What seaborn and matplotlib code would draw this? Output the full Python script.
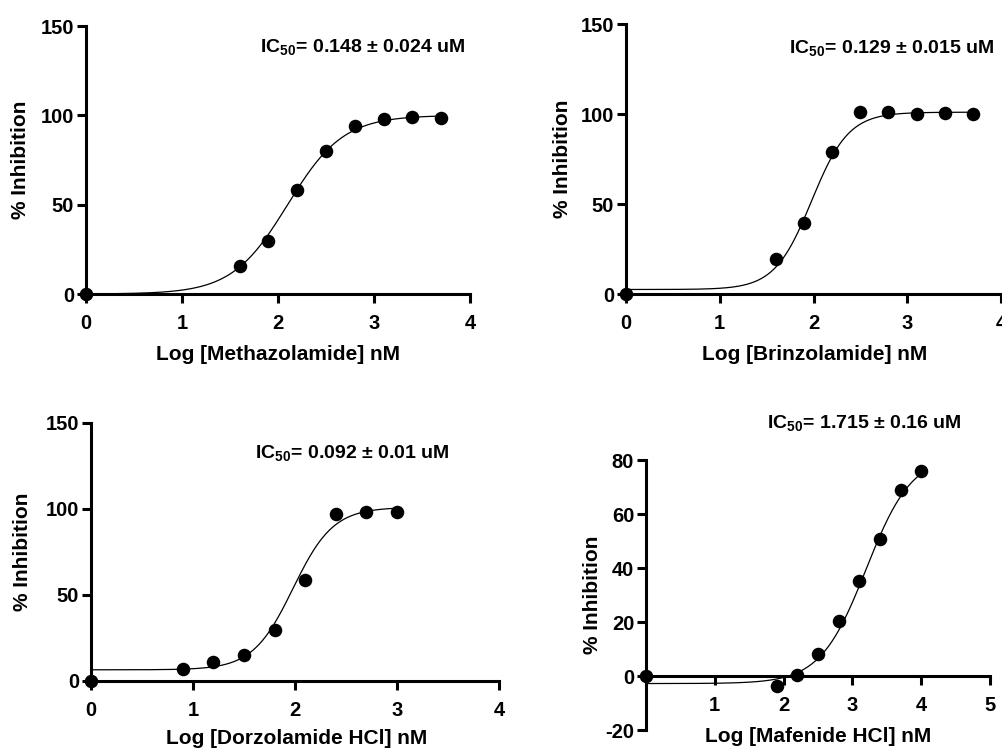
import numpy as np
import pandas as pd
import matplotlib
matplotlib.use("Agg")
import matplotlib.pyplot as plt
import seaborn as sns

# ---------------- data ----------------
meth_x = [0, 1.6, 1.9, 2.2, 2.5, 2.8, 3.1, 3.4, 3.7]
meth_y = [0, 15.7, 29.8, 58.4, 80.2, 94.2, 97.8, 99.1, 98.7]

brin_x = [0, 1.6, 1.9, 2.2, 2.5, 2.8, 3.1, 3.4, 3.7]
brin_y = [0, 19.6, 39.3, 79.1, 100.9, 100.9, 100.0, 100.4, 99.8]

dorz_x = [0, 0.9, 1.2, 1.5, 1.8, 2.1, 2.4, 2.7, 3.0]
dorz_y = [0, 6.8, 11.1, 15.0, 29.5, 59.0, 97.0, 98.0, 98.0]

mafe_x = [0, 1.9, 2.2, 2.5, 2.8, 3.1, 3.4, 3.7, 4.0]
mafe_y = [0, -3.7, 0.4, 8.1, 20.2, 35.3, 50.7, 68.9, 75.8]

# 4PL fit parameters: bottom, top, logIC50, hill
meth_fit = [0.0, 100.0, 2.10, 1.5]
brin_fit = [2.5, 101.0, 1.98, 2.2]
dorz_fit = [6.5, 101.0, 1.98, 2.2]
mafe_fit = [-2.8, 82.0, 3.20, 1.3]

xlabels = ["Log [Methazolamide] nM", "Log [Brinzolamide] nM",
           "Log [Dorzolamide HCl] nM", "Log [Mafenide HCl] nM"]
ic50_labels = ["0.148 \u00b1 0.024 uM", "0.129 \u00b1 0.015 uM",
               "0.092 \u00b1 0.01 uM", "1.715 \u00b1 0.16 uM"]

# ---------------- style ----------------
sns.set_theme(style="ticks")
plt.rcParams['font.family'] = ['Liberation Sans', 'DejaVu Sans']
plt.rcParams['font.weight'] = 'bold'
plt.rcParams['mathtext.fontset'] = 'custom'
plt.rcParams['mathtext.rm'] = 'Liberation Sans:bold'
plt.rcParams['mathtext.it'] = 'Liberation Sans:bold'
plt.rcParams['mathtext.bf'] = 'Liberation Sans:bold'
plt.rcParams['mathtext.default'] = 'rm'

W, H = 1003, 751
fig = plt.figure(figsize=(W / 100, H / 100), dpi=100)


def frac_rect(left, right, top, bottom):
    return [left / W, 1 - bottom / H, (right - left) / W, (bottom - top) / H]


panels = [
    dict(x=meth_x, y=meth_y, fit=meth_fit, rect=frac_rect(86, 470, 26, 294),
         xlim=(0, 4), ylim=(0, 150), xt=[0, 1, 2, 3, 4], yt=[0, 50, 100, 150],
         ic_pos=(260, 52), ylab_x=21, xlab=(278, 355)),
    dict(x=brin_x, y=brin_y, fit=brin_fit, rect=frac_rect(626, 1001, 24, 294),
         xlim=(0, 4), ylim=(0, 150), xt=[0, 1, 2, 3, 4], yt=[0, 50, 100, 150],
         ic_pos=(789, 53), ylab_x=563, xlab=(815, 355)),
    dict(x=dorz_x, y=dorz_y, fit=dorz_fit, rect=frac_rect(91, 499, 423, 681),
         xlim=(0, 4), ylim=(0, 150), xt=[0, 1, 2, 3, 4], yt=[0, 50, 100, 150],
         ic_pos=(255, 458), ylab_x=23, xlab=(297, 738)),
    dict(x=mafe_x, y=mafe_y, fit=mafe_fit, rect=frac_rect(646, 990, 460, 730),
         xlim=(0, 5), ylim=(-20, 80), xt=[1, 2, 3, 4, 5], yt=[-20, 0, 20, 40, 60, 80],
         ic_pos=(767, 428), ylab_x=592, xlab=(818, 737)),
]

for i, p in enumerate(panels):
    ax = fig.add_axes(p["rect"])
    bottom, top, logic, hill = p["fit"]
    xs = np.linspace(min(p["x"]), max(p["x"]), 400)
    ys = bottom + (top - bottom) / (1 + 10 ** ((logic - xs) * hill))
    sns.lineplot(x=xs, y=ys, ax=ax, color="black", linewidth=0.9, zorder=3)
    sns.scatterplot(x=p["x"], y=p["y"], ax=ax, color="black", s=95,
                    linewidth=0, zorder=4, clip_on=False)
    for coll in ax.collections:
        coll.set_clip_on(False)
    ax.set_xlim(*p["xlim"])
    ax.set_ylim(*p["ylim"])
    ax.set_xticks(p["xt"])
    ax.set_yticks(p["yt"])
    ax.set_xticklabels([str(v) for v in p["xt"]])
    ax.set_yticklabels([str(v) for v in p["yt"]])
    sns.despine(ax=ax)
    for s in ["left", "bottom"]:
        ax.spines[s].set_linewidth(2.2)
        ax.spines[s].set_color("black")
    if i == 3:
        ax.spines["bottom"].set_position(("data", 0))
    ax.tick_params(axis="both", width=2.2, length=6.5, labelsize=14.5,
                   color="black", labelcolor="black")
    ax.tick_params(axis="x", pad=8)
    ax.tick_params(axis="y", pad=2)
    for lab in ax.get_xticklabels() + ax.get_yticklabels():
        lab.set_fontweight("bold")
    ax.set_xlabel(xlabels[i], fontsize=15, fontweight="bold", color="black")
    ax.set_ylabel("% Inhibition", fontsize=15, fontweight="bold", color="black")
    l, b, w, h = p["rect"]
    xl_px, yl_px = p["xlab"]
    ax.xaxis.label.set_va("center")
    ax.xaxis.set_label_coords((xl_px / W - l) / w, ((1 - yl_px / H) - b) / h)
    ax.yaxis.label.set_va("center")
    ax.yaxis.set_label_coords((p["ylab_x"] / W - l) / w, 0.5)
    ax.set_facecolor("none")
    fx, fy = p["ic_pos"]
    fig.text(fx / W, 1 - fy / H, "IC$_{50}$= " + ic50_labels[i], fontsize=14,
             fontweight="bold", ha="left", va="baseline", color="black")

fig.savefig("out.png", dpi=100, facecolor="white")
